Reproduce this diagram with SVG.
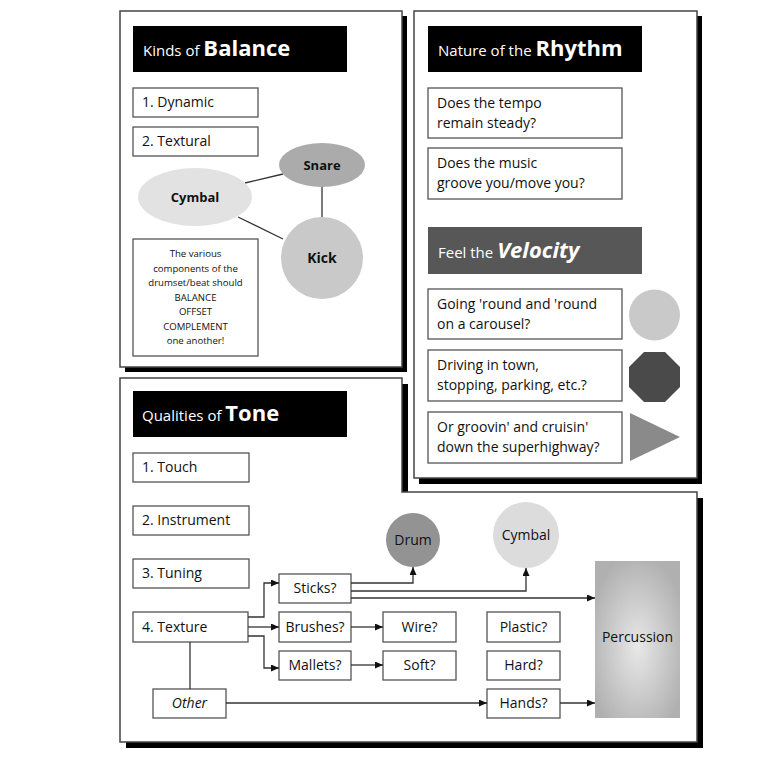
<svg xmlns="http://www.w3.org/2000/svg" width="778" height="765" viewBox="0 0 778 765">
<defs>
<style>
text{font-family:'Open Sans','Noto Sans',sans-serif;fill:#111}
.panel{fill:#fff;stroke:#444;stroke-width:1.5}
.shadow{fill:#000}
.box{fill:#fff;stroke:#555;stroke-width:1.3}
.t14{font-size:14px}
.t10{font-size:9.6px}
.th{font-size:15px;fill:#fff}
.thb{font-size:22px;font-weight:bold;fill:#fff}
.c{text-anchor:middle}
.b{font-weight:bold}
.conn{fill:none;stroke:#333;stroke-width:1.3}
</style>
<marker id="arr" markerWidth="8" markerHeight="8" refX="8" refY="3.5" orient="auto" markerUnits="userSpaceOnUse">
<path d="M0,0 L8,3.5 L0,7 z" fill="#111"/>
</marker>
<radialGradient id="perc" cx="0.5" cy="0.55" r="0.6">
<stop offset="0" stop-color="#e8e8e8"/>
<stop offset="1" stop-color="#b0b0b0"/>
</radialGradient>
</defs>
<rect width="778" height="765" fill="#fff"/>

<!-- Panel 1: Balance -->
<g id="panel-balance">
<rect class="shadow" x="125" y="16" width="282" height="356"/>
<rect class="panel" x="120" y="11" width="282" height="356"/>
<rect x="133" y="26" width="214" height="46" fill="#000"/>
<text x="143" y="56"><tspan class="th">Kinds of </tspan><tspan class="thb">Balance</tspan></text>
</g>
<g id="dynamic"><rect class="box" x="133" y="88" width="125" height="29"/><text class="t14" x="142" y="107">1. Dynamic</text></g>
<g id="textural"><rect class="box" x="133" y="127" width="125" height="29"/><text class="t14" x="142" y="146">2. Textural</text></g>
<g id="balance-links">
<line class="conn" x1="245" y1="183" x2="283" y2="174"/>
<line class="conn" x1="322" y1="187" x2="322" y2="217"/>
<line class="conn" x1="238" y1="217" x2="283" y2="239"/>
</g>
<g id="snare"><ellipse cx="322" cy="165" rx="43" ry="22" fill="#ababab"/><text class="c b" x="322" y="170" font-size="13">Snare</text></g>
<g id="cymbal-balance"><ellipse cx="195" cy="197" rx="57" ry="29" fill="#e2e2e2"/><text class="c b" x="195" y="202" font-size="13">Cymbal</text></g>
<g id="kick"><circle cx="322" cy="258" r="41" fill="#c9c9c9"/><text class="c b" x="322" y="263" font-size="14">Kick</text></g>
<g id="note">
<rect class="box" x="133" y="239" width="125" height="117"/>
<text class="t10 c" x="195.5" y="257">The various</text>
<text class="t10 c" x="195.5" y="271.5">components of the</text>
<text class="t10 c" x="195.5" y="286">drumset/beat should</text>
<text class="t10 c" x="195.5" y="300.5">BALANCE</text>
<text class="t10 c" x="195.5" y="315">OFFSET</text>
<text class="t10 c" x="195.5" y="329.5">COMPLEMENT</text>
<text class="t10 c" x="195.5" y="344">one another!</text>
</g>

<!-- Panel 2: Rhythm / Velocity -->
<g id="panel-rhythm">
<rect class="shadow" x="419" y="16" width="283" height="468"/>
<rect class="panel" x="414" y="11" width="283" height="467"/>
<rect x="428" y="26" width="214" height="46" fill="#000"/>
<text x="438" y="56"><tspan class="th">Nature of the </tspan><tspan class="thb">Rhythm</tspan></text>
</g>
<g id="tempo"><rect class="box" x="428" y="88" width="194" height="50"/><text class="t14" x="437" y="108">Does the tempo</text><text class="t14" x="437" y="127.5">remain steady?</text></g>
<g id="groove"><rect class="box" x="428" y="148" width="194" height="51"/><text class="t14" x="437" y="168">Does the music</text><text class="t14" x="437" y="187.5">groove you/move you?</text></g>
<g id="velocity-title">
<rect x="428" y="227" width="214" height="47" fill="#575757"/>
<text x="438" y="258"><tspan class="th">Feel the </tspan><tspan class="thb" font-style="italic">Velocity</tspan></text>
</g>
<g id="carousel"><rect class="box" x="428" y="289" width="194" height="50"/><text class="t14" x="437" y="309">Going 'round and 'round</text><text class="t14" x="437" y="328.5">on a carousel?</text></g>
<g id="town"><rect class="box" x="428" y="350" width="194" height="51"/><text class="t14" x="437" y="370">Driving in town,</text><text class="t14" x="437" y="389.5">stopping, parking, etc.?</text></g>
<g id="highway"><rect class="box" x="428" y="412" width="194" height="51"/><text class="t14" x="437" y="432">Or groovin' and cruisin'</text><text class="t14" x="437" y="451.5">down the superhighway?</text></g>
<g id="circle-shape"><circle cx="654.5" cy="315" r="25.5" fill="#c9c9c9"/></g>
<g id="octagon-shape"><polygon points="644,352 665,352 680,367 680,387 665,402 644,402 629,387 629,367" fill="#4a4a4a"/></g>
<g id="triangle-shape"><polygon points="630,413 680,437 630,461" fill="#8a8a8a"/></g>

<!-- Panel 3: Tone -->
<g id="panel-tone">
<path class="shadow" d="M126,384 H408 V498 H703 V748 H126 Z"/>
<path class="panel" d="M120,378 H402 V492 H697 V742 H120 Z"/>
<rect x="133" y="391" width="214" height="46" fill="#000"/>
<text x="142" y="421"><tspan class="th">Qualities of </tspan><tspan class="thb">Tone</tspan></text>
</g>
<g id="touch"><rect class="box" x="133" y="453" width="116" height="29"/><text class="t14" x="142" y="472">1. Touch</text></g>
<g id="instrument"><rect class="box" x="133" y="506" width="116" height="29"/><text class="t14" x="142" y="525">2. Instrument</text></g>
<g id="tuning"><rect class="box" x="133" y="559" width="116" height="29"/><text class="t14" x="142" y="578">3. Tuning</text></g>
<g id="texture"><rect class="box" x="133" y="612" width="115" height="30"/><text class="t14" x="142" y="632">4. Texture</text></g>
<g id="sticks"><rect class="box" x="279" y="574" width="72" height="29"/><text class="t14 c" x="315" y="593">Sticks?</text></g>
<g id="brushes"><rect class="box" x="279" y="612" width="72" height="30"/><text class="t14 c" x="315" y="632">Brushes?</text></g>
<g id="mallets"><rect class="box" x="279" y="651" width="72" height="29"/><text class="t14 c" x="315" y="670">Mallets?</text></g>
<g id="wire"><rect class="box" x="383" y="612" width="73" height="30"/><text class="t14 c" x="419.5" y="632">Wire?</text></g>
<g id="soft"><rect class="box" x="383" y="651" width="73" height="29"/><text class="t14 c" x="419.5" y="670">Soft?</text></g>
<g id="other"><rect class="box" x="153" y="689" width="73" height="29"/><text class="t14 c" x="189.5" y="708" font-style="italic">Other</text></g>
<g id="plastic"><rect class="box" x="487" y="612" width="73" height="30"/><text class="t14 c" x="523.5" y="632">Plastic?</text></g>
<g id="hard"><rect class="box" x="487" y="651" width="73" height="29"/><text class="t14 c" x="523.5" y="670">Hard?</text></g>
<g id="hands"><rect class="box" x="487" y="689" width="73" height="29"/><text class="t14 c" x="523.5" y="708">Hands?</text></g>
<g id="drum"><circle cx="413" cy="540" r="27" fill="#939393"/><text class="t14 c" x="413" y="545">Drum</text></g>
<g id="cymbal-tone"><circle cx="526" cy="535" r="33" fill="#dcdcdc"/><text class="t14 c" x="526" y="540">Cymbal</text></g>
<g id="percussion"><rect x="595" y="561" width="85" height="157" fill="url(#perc)"/><text class="t14 c" x="637.5" y="642">Percussion</text></g>

<g id="connectors">
<path class="conn" d="M351,583 H413 V567" marker-end="url(#arr)"/>
<path class="conn" d="M351,591 H526 V568" marker-end="url(#arr)"/>
<path class="conn" d="M351,598 H595" marker-end="url(#arr)"/>
<path class="conn" d="M248,617 H264 V583 H279" marker-end="url(#arr)"/>
<path class="conn" d="M248,627 H279" marker-end="url(#arr)"/>
<path class="conn" d="M248,636 H264 V668 H279" marker-end="url(#arr)"/>
<path class="conn" d="M351,627 H383" marker-end="url(#arr)"/>
<path class="conn" d="M351,665 H383" marker-end="url(#arr)"/>
<path class="conn" d="M190,642 V689"/>
<path class="conn" d="M226,703 H487" marker-end="url(#arr)"/>
<path class="conn" d="M560,703 H595" marker-end="url(#arr)"/>
</g>
</svg>
